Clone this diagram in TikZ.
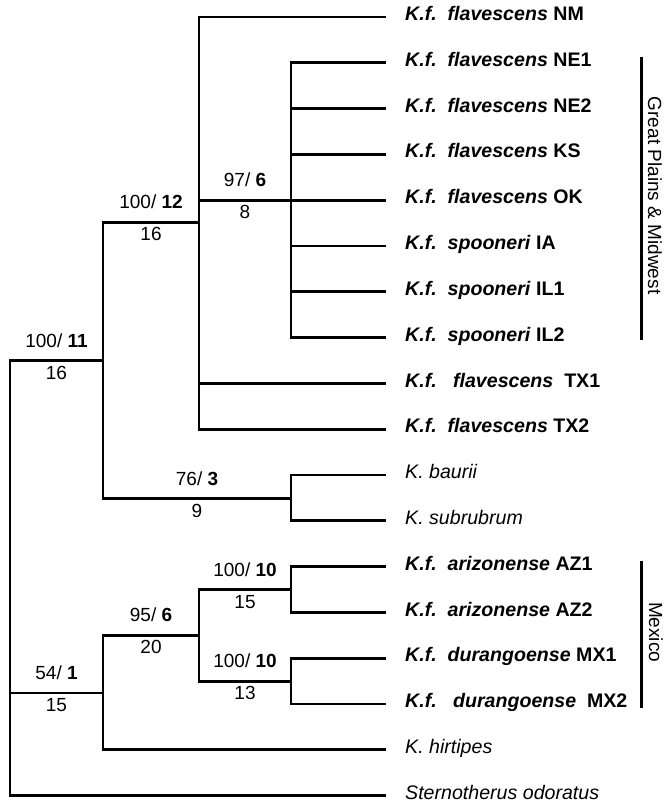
\documentclass[tikz,border=0pt]{standalone}
\usepackage{fontspec}
\setmainfont{Liberation Sans}
\usetikzlibrary{positioning}
\newcommand{\kf}[2]{\textbf{\textit{K.f.}\ \ \textit{#1} #2}}

\begin{document}
\begin{tikzpicture}[
    x=1pt, y=-45.8pt,
    every node/.style={font=\fontsize{19}{22}\selectfont},
    branch/.style={line width=2.8pt, line cap=rect},
    bar/.style={line width=2.2pt},
    tip/.style={inner sep=0pt, text height=.72em, text depth=0pt, font=\fontsize{19.6}{22}\selectfont},
    support/.style={pos=.75, above=12pt, inner sep=0pt, text height=.72em, text depth=0pt},
    steps/.style={pos=.75, below=10pt, inner sep=0pt, text height=.72em, text depth=0pt},
  ]
  \useasboundingbox (0,-0.371) rectangle (671,17.205);

  % Tip ends
  \coordinate (NM)   at (385,0);
  \coordinate (NE1)  at (385,1);
  \coordinate (NE2)  at (385,2);
  \coordinate (KS)   at (385,3);
  \coordinate (OK)   at (385,4);
  \coordinate (IA)   at (385,5);
  \coordinate (IL1)  at (385,6);
  \coordinate (IL2)  at (385,7);
  \coordinate (TX1)  at (385,8);
  \coordinate (TX2)  at (385,9);
  \coordinate (bau)  at (385,10);
  \coordinate (sub)  at (385,11);
  \coordinate (AZ1)  at (385,12);
  \coordinate (AZ2)  at (385,13);
  \coordinate (MX1)  at (385,14);
  \coordinate (MX2)  at (385,15);
  \coordinate (hir)  at (385,16);
  \coordinate (ster) at (385,17);

  % Taxon names
  \node[tip, right=20pt of NM]   (NM-l)   {\kf{flavescens}{NM}};
  \node[tip, right=20pt of NE1]  (NE1-l)  {\kf{flavescens}{NE1}};
  \node[tip, right=20pt of NE2]  (NE2-l)  {\kf{flavescens}{NE2}};
  \node[tip, right=20pt of KS]   (KS-l)   {\kf{flavescens}{KS}};
  \node[tip, right=20pt of OK]   (OK-l)   {\kf{flavescens}{OK}};
  \node[tip, right=20pt of IA]   (IA-l)   {\kf{spooneri}{IA}};
  \node[tip, right=20pt of IL1]  (IL1-l)  {\kf{spooneri}{IL1}};
  \node[tip, right=20pt of IL2]  (IL2-l)  {\kf{spooneri}{IL2}};
  \node[tip, right=20pt of TX1]  (TX1-l)  {\textbf{\textit{K.f.}\ \ \ \textit{flavescens}\ \ TX1}};
  \node[tip, right=20pt of TX2]  (TX2-l)  {\kf{flavescens}{TX2}};
  \node[tip, right=20pt of bau]  (bau-l)  {\textit{K. baurii}};
  \node[tip, right=20pt of sub]  (sub-l)  {\textit{K. subrubrum}};
  \node[tip, right=20pt of AZ1]  (AZ1-l)  {\kf{arizonense}{AZ1}};
  \node[tip, right=20pt of AZ2]  (AZ2-l)  {\kf{arizonense}{AZ2}};
  \node[tip, right=20pt of MX1]  (MX1-l)  {\kf{durangoense}{MX1}};
  \node[tip, right=20pt of MX2]  (MX2-l)  {\textbf{\textit{K.f.}\ \ \ \textit{durangoense}\ \ MX2}};
  \node[tip, right=20pt of hir]  (hir-l)  {\textit{K. hirtipes}};
  \node[tip, right=20pt of ster] (ster-l) {\textit{Sternotherus odoratus}};

  % Internal nodes
  \coordinate (root) at (10,17);
  \coordinate (n11)  at (103,7.5);
  \coordinate (n12)  at (199,4.48);
  \coordinate (n6)   at (291,4);
  \coordinate (n3)   at (291,10.52);
  \coordinate (n1)   at (103,14.76);
  \coordinate (n6b)  at (199,13.5);
  \coordinate (n10a) at (291,12.5);
  \coordinate (n10b) at (291,14.5);

  % Branches
  \draw[branch] (root) |- (n11) node[support] {100/ \textbf{11}} node[steps] {16};
  \draw[branch] (root) |- (n1) node[support] {54/ \textbf{1}} node[steps] {15};
  \draw[branch] (root) |- (ster);

  \draw[branch] (n11) |- (n12) node[support] {100/ \textbf{12}} node[steps] {16};
  \draw[branch] (n11) |- (n3) node[support] {76/ \textbf{3}} node[steps] {9};

  \draw[branch] (n12) |- (n6) node[support] {97/ \textbf{6}} node[steps] {8};
  \draw[branch] (n12) |- (NM) (n12) |- (TX1) (n12) |- (TX2);

  \draw[branch] (n6) |- (NE1) (n6) |- (NE2) (n6) |- (KS) (n6) |- (OK)
                (n6) |- (IA) (n6) |- (IL1) (n6) |- (IL2);

  \draw[branch] (n3) |- (bau) (n3) |- (sub);

  \draw[branch] (n1) |- (n6b) node[support] {95/ \textbf{6}} node[steps] {20};
  \draw[branch] (n1) |- (hir);

  \draw[branch] (n6b) |- (n10a) node[support] {100/ \textbf{10}} node[steps] {15};
  \draw[branch] (n6b) |- (n10b) node[support] {100/ \textbf{10}} node[steps] {13};

  \draw[branch] (n10a) |- (AZ1) (n10a) |- (AZ2);
  \draw[branch] (n10b) |- (MX1) (n10b) |- (MX2);

  % Groups
  \draw[bar] (641.5,0.873) -- (641.5,7.05);
  \node[rotate=-90] (gp) at (655,3.9) {Great Plains \& Midwest};
  \draw[bar] (641.5,11.88) -- (641.5,15.09);
  \node[rotate=-90] (mex) at (656,13.43) {Mexico};
\end{tikzpicture}
\end{document}
